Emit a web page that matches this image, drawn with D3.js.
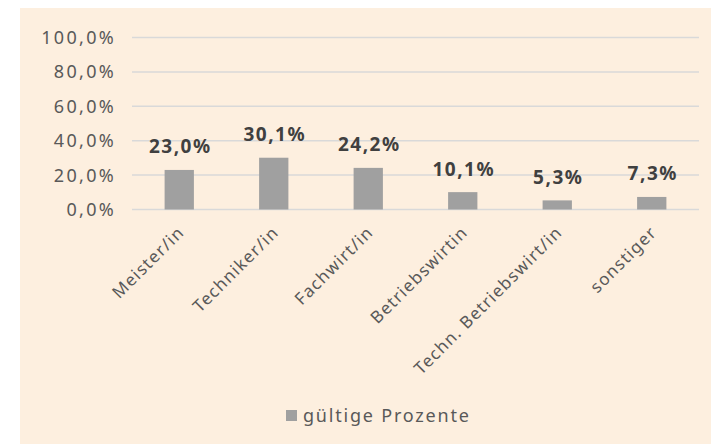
<!DOCTYPE html>
<html>
<head>
<meta charset="utf-8">
<script src="https://cdn.jsdelivr.net/npm/d3@7"></script>
<style>
  html, body { margin: 0; padding: 0; background: #fff; }
  text { font-family: "Noto Sans", "Open Sans", sans-serif; }
</style>
</head>
<body>
<div id="chart"></div>
<script>
// categories and values (gültige Prozente)
const categories = ["Meister/in", "Techniker/in", "Fachwirt/in", "Betriebswirtin", "Techn. Betriebswirt/in", "sonstiger"];
const values = [23.0, 30.1, 24.2, 10.1, 5.3, 7.3];
const yTicks = [0, 20, 40, 60, 80, 100];
const seriesName = "gültige Prozente";

const W = 711, H = 444;
const fmt = v => v.toFixed(1).replace(".", ",") + "%";

const svg = d3.select("#chart").append("svg")
    .attr("width", W)
    .attr("height", H);

// chart area background
svg.append("rect")
    .attr("x", 20).attr("y", 8)
    .attr("width", W - 20).attr("height", H - 8)
    .attr("fill", "#fdefdf");

const plot = { left: 132, right: 699, top: 37.5, bottom: 209.5 };

const x = d3.scaleBand()
    .domain(categories)
    .range([plot.left, plot.right])
    .paddingInner(0.69)
    .paddingOuter(0.345);

const y = d3.scaleLinear()
    .domain([0, 100])
    .range([plot.bottom, plot.top]);

// gridlines
svg.append("g")
    .selectAll("line")
    .data(yTicks)
    .join("line")
    .attr("x1", plot.left).attr("x2", plot.right)
    .attr("y1", d => y(d)).attr("y2", d => y(d))
    .attr("stroke", "#d9d9d9")
    .attr("stroke-width", 1.5);

// y tick labels
svg.append("g")
    .selectAll("text")
    .data(yTicks)
    .join("text")
    .attr("x", 116)
    .attr("y", d => y(d) + 6.5)
    .attr("text-anchor", "end")
    .attr("fill", "#595959")
    .style("font-size", "18px")
    .style("letter-spacing", "2.3px")
    .text(fmt);

// bars
svg.append("g")
    .selectAll("rect")
    .data(values)
    .join("rect")
    .attr("x", (d, i) => x(categories[i]))
    .attr("y", d => y(d))
    .attr("width", x.bandwidth())
    .attr("height", d => y(0) - y(d))
    .attr("fill", "#a0a0a0");

// data labels
svg.append("g")
    .selectAll("text")
    .data(values)
    .join("text")
    .attr("x", (d, i) => x(categories[i]) + x.bandwidth() / 2 + 1)
    .attr("y", d => y(d) - 16.5)
    .attr("text-anchor", "middle")
    .attr("fill", "#404040")
    .style("font-size", "19px")
    .style("font-weight", "bold")
    .style("letter-spacing", "1.5px")
    .text(fmt);

// category labels, rotated
svg.append("g")
    .selectAll("text")
    .data(categories)
    .join("text")
    .attr("transform", d => {
        const cx = x(d) + x.bandwidth() / 2 + 6;
        return `translate(${cx},${plot.bottom + 24}) rotate(-45)`;
    })
    .attr("text-anchor", "end")
    .attr("fill", "#595959")
    .style("font-size", "17px")
    .style("letter-spacing", "1.2px")
    .text(d => d);

// legend
const legend = svg.append("g").attr("transform", "translate(286,410)");
legend.append("rect")
    .attr("width", 11).attr("height", 11)
    .attr("fill", "#a0a0a0");
legend.append("text")
    .attr("x", 17).attr("y", 12)
    .attr("fill", "#595959")
    .style("font-size", "18px")
    .style("letter-spacing", "1.8px")
    .text(seriesName);
</script>
</body>
</html>
